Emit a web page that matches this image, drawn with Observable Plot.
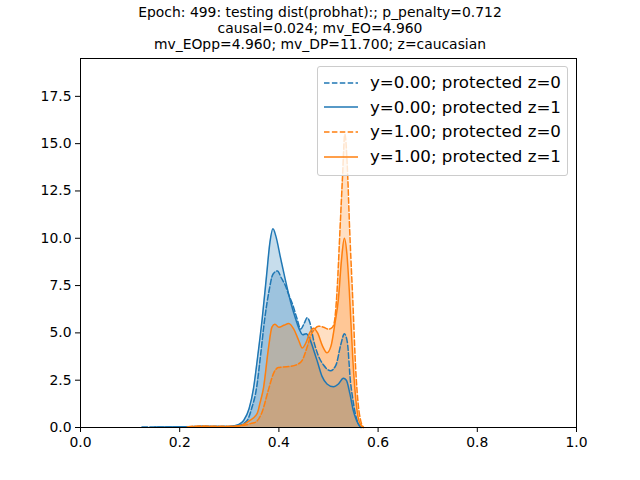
<!DOCTYPE html>
<html>
<head>
<meta charset="utf-8">
<script src="https://cdn.jsdelivr.net/npm/d3@7"></script>
<script src="https://cdn.jsdelivr.net/npm/@observablehq/plot@0.6"></script>
<style>
  html, body { margin: 0; padding: 0; background: white; }
  #wrap { position: relative; width: 640px; height: 480px; font-family: "DejaVu Sans", sans-serif; }
  #title { height: 50px; padding-top: 4px; box-sizing: border-box; text-align: center; font-size: 13.9px; line-height: 16px; color: black; }
  #legend { position: absolute; left: 317px; top: 66px; width: 251px; height: 110px; box-sizing: border-box;
            border: 1px solid #cccccc; border-radius: 3px; background: rgba(255,255,255,0.8); padding-top: 3.5px; }
  .row { height: 24.6px; display: flex; align-items: center; font-size: 16.67px; color: black; white-space: nowrap; }
  .row svg { margin-left: 6px; margin-right: 12px; }
</style>
</head>
<body>
<div id="wrap">
  <div id="title"></div>
  <div id="chart"></div>
  <div id="legend"></div>
</div>
<script>
const titleLines = [
  "Epoch: 499: testing dist(probhat):; p_penalty=0.712",
  "causal=0.024; mv_EO=4.960",
  "mv_EOpp=4.960; mv_DP=11.700; z=caucasian"
];
const xTicks = [0, 0.2, 0.4, 0.6, 0.8, 1.0];
const yTicks = [0, 2.5, 5, 7.5, 10, 12.5, 15, 17.5];
const seriesNames = ["y=0.00; protected z=0", "y=0.00; protected z=1", "y=1.00; protected z=0", "y=1.00; protected z=1"];
const seriesColors = ["#1f77b4", "#1f77b4", "#ff7f0e", "#ff7f0e"];
const seriesDashed = [true, false, true, false];

// y=0.00; protected z=0 (blue dashed)
const b0x = [0.124, 0.20, 0.25, 0.30, 0.32, 0.336, 0.345, 0.355, 0.363, 0.371, 0.38, 0.388, 0.397, 0.405, 0.413, 0.42, 0.427, 0.436, 0.444, 0.451, 0.457, 0.463, 0.47, 0.478, 0.49, 0.504, 0.515, 0.525, 0.532, 0.538, 0.544, 0.549, 0.554, 0.56, 0.565];
const b0y = [0.03, 0.03, 0.06, 0.05, 0.12, 0.37, 1.0, 2.1, 3.8, 5.66, 7.2, 8.1, 8.27, 7.9, 7.5, 7.0, 6.55, 5.8, 5.2, 5.5, 5.8, 5.5, 4.6, 3.9, 3.3, 3.0, 3.3, 4.4, 4.95, 4.5, 2.5, 1.5, 0.74, 0.2, 0];
// y=0.00; protected z=1 (blue solid)
const b1x = [0.15, 0.25, 0.30, 0.318, 0.329, 0.34, 0.349, 0.357, 0.366, 0.375, 0.382, 0.388, 0.394, 0.403, 0.413, 0.423, 0.433, 0.441, 0.448, 0.455, 0.462, 0.47, 0.478, 0.487, 0.497, 0.51, 0.52, 0.53, 0.536, 0.543, 0.55, 0.557, 0.563, 0.567];
const b1y = [0.02, 0.05, 0.05, 0.15, 0.37, 1.0, 2.1, 3.7, 5.66, 8.0, 9.8, 10.5, 10.1, 9.0, 7.8, 6.7, 5.8, 5.2, 4.9, 4.95, 4.7, 4.1, 3.45, 2.7, 2.3, 2.15, 2.3, 2.6, 2.5, 1.8, 0.9, 0.35, 0.08, 0];
// y=1.00; protected z=0 (orange dashed)
const o0x = [0.215, 0.24, 0.27, 0.30, 0.32, 0.335, 0.345, 0.353, 0.366, 0.379, 0.389, 0.399, 0.42, 0.437, 0.447, 0.457, 0.465, 0.472, 0.48, 0.49, 0.50, 0.508, 0.512, 0.516, 0.524, 0.528, 0.533, 0.539, 0.542, 0.549, 0.555, 0.56, 0.565, 0.571];
const o0y = [0.03, 0.08, 0.06, 0.06, 0.08, 0.15, 0.22, 0.28, 0.81, 2.0, 2.85, 3.17, 3.22, 3.33, 3.55, 4.25, 4.9, 5.2, 5.35, 5.3, 5.2, 5.3, 5.6, 6.7, 10.9, 13.1, 15.5, 13.1, 10.9, 6.7, 3.0, 1.2, 0.35, 0];
// y=1.00; protected z=1 (orange solid)
const o1x = [0.22, 0.25, 0.30, 0.325, 0.34, 0.356, 0.362, 0.369, 0.379, 0.386, 0.392, 0.40, 0.41, 0.42, 0.43, 0.44, 0.447, 0.455, 0.462, 0.47, 0.478, 0.488, 0.497, 0.505, 0.513, 0.52, 0.526, 0.532, 0.537, 0.543, 0.549, 0.555, 0.56, 0.566, 0.57];
const o1y = [0.02, 0.05, 0.04, 0.12, 0.35, 0.73, 1.3, 2.1, 4.2, 5.3, 5.45, 5.3, 5.4, 5.5, 5.2, 4.6, 4.2, 4.5, 5.0, 5.25, 5.0, 4.3, 3.95, 4.3, 5.5, 6.8, 8.8, 10.0, 9.2, 6.7, 3.6, 1.5, 0.5, 0.1, 0];

const seriesX = [b0x, b1x, o0x, o1x];
const seriesY = [b0y, b1y, o0y, o1y];

const tables = seriesX.map((xs, i) => xs.map((x, j) => ({x, y: seriesY[i][j], s: seriesNames[i]})));

document.getElementById("title").innerHTML = titleLines.map(t => `<div>${t}</div>`).join("");

const marks = [];
tables.forEach((t, i) => {
  marks.push(Plot.areaY(t, {x: "x", y: "y", fill: seriesColors[i], fillOpacity: 0.25, curve: "monotone-x"}));
});
tables.forEach((t, i) => {
  marks.push(Plot.lineY(t, {x: "x", y: "y", stroke: seriesColors[i], strokeWidth: 1.5,
    strokeDasharray: seriesDashed[i] ? "5.5,2.4" : null, curve: "monotone-x"}));
});

const chart = Plot.plot({
  width: 640,
  height: 430,
  marginLeft: 80,
  marginRight: 64,
  marginTop: 8,
  marginBottom: 53,
  style: {fontFamily: "DejaVu Sans", fontSize: "13.9px", color: "black", background: "white", overflow: "visible"},
  x: {domain: [0, 1]},
  y: {domain: [0, 19.5]},
  marks: [
    ...marks,
    Plot.frame({stroke: "black", strokeWidth: 1}),
    Plot.axisX({ticks: xTicks, tickFormat: d3.format(".1f"), tickSize: 5, tickPadding: 5, label: null, stroke: "black", fill: "black"}),
    Plot.axisY({ticks: yTicks, tickFormat: d3.format(".1f"), tickSize: 5, tickPadding: 4, label: null, stroke: "black", fill: "black"})
  ]
});
document.getElementById("chart").appendChild(chart);

const legend = document.getElementById("legend");
seriesNames.forEach((name, i) => {
  const row = document.createElement("div");
  row.className = "row";
  const dash = seriesDashed[i] ? 'stroke-dasharray="5.5,2.4"' : '';
  row.innerHTML = `<svg width="34" height="10"><line x1="0" x2="34" y1="5" y2="5" stroke="${seriesColors[i]}" stroke-width="1.5" ${dash}/></svg><span>${name}</span>`;
  legend.appendChild(row);
});
</script>
</body>
</html>
